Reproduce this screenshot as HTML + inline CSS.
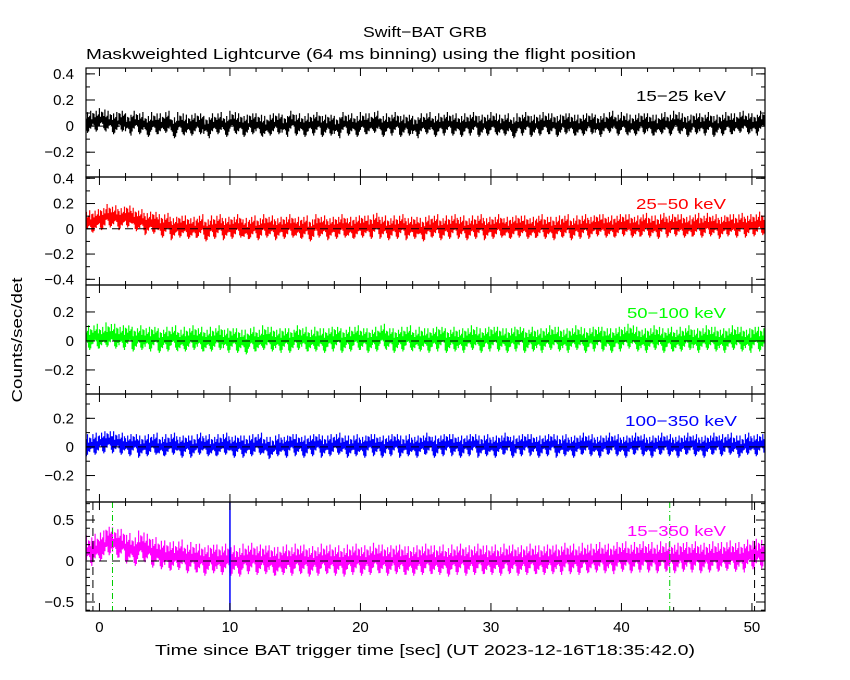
<!DOCTYPE html>
<html><head><meta charset="utf-8"><style>
html,body{margin:0;padding:0;background:#fff;}
svg{display:block;font-family:"Liberation Sans",sans-serif;}
</style></head><body>
<svg id="chart" width="850" height="680" viewBox="0 0 850 680">
<text x="363" y="37" font-size="15" textLength="124" lengthAdjust="spacingAndGlyphs">Swift−BAT GRB</text>
<text x="86" y="59" font-size="15" textLength="550" lengthAdjust="spacingAndGlyphs">Maskweighted Lightcurve (64 ms binning) using the flight position</text>
<text transform="translate(22,340) rotate(-90)" font-size="15" text-anchor="middle" textLength="125" lengthAdjust="spacingAndGlyphs">Counts/sec/det</text>
<text x="155" y="655" font-size="15" textLength="540" lengthAdjust="spacingAndGlyphs">Time since BAT trigger time [sec] (UT 2023-12-16T18:35:42.0)</text>
</svg>
<script>
const t0 = -1, dt = 0.5;
const s1525 = [0.03,0.04,0.05,0.03,0.02,0.04,0.01,0.03,0.02,0.00,0.02,0.01,0.03,-0.01,0.02,0.00,0.01,0.02,-0.01,0.01,0.02,0.00,0.03,0.01,0.00,0.02,0.01,-0.01,0.01,0.02,0.00,0.03,0.01,0.00,0.01,0.02,0.00,0.01,-0.01,0.02,0.01,0.00,0.02,0.01,0.03,0.00,0.01,0.02,0.00,0.01,-0.01,0.01,0.02,0.00,0.01,0.02,0.01,0.00,0.01,0.02,0.00,0.01,0.02,0.00,0.01,-0.01,0.01,0.02,0.00,0.01,0.02,0.01,0.00,0.02,0.01,0.00,0.01,0.02,0.00,0.01,0.03,0.01,0.02,0.00,0.01,0.02,0.01,0.00,0.02,0.01,0.03,0.01,0.00,0.02,0.01,0.02,0.00,0.01,0.02,0.01,0.03,0.02,0.01,0.03];
const s2550 = [0.05,0.06,0.08,0.10,0.09,0.08,0.10,0.07,0.06,0.04,0.05,0.02,0.03,0.00,0.02,0.01,0.00,0.02,-0.01,0.01,0.02,0.00,0.01,0.02,-0.01,0.01,0.00,0.02,0.01,0.00,0.01,0.02,0.00,0.01,-0.01,0.02,0.01,0.00,0.01,0.02,0.00,0.01,0.02,0.01,0.03,0.01,0.00,0.01,0.02,0.00,0.01,-0.01,0.01,0.02,0.00,0.01,0.02,0.01,0.00,0.01,0.02,0.00,0.01,0.02,0.00,0.01,0.02,0.01,0.00,0.02,0.01,0.00,0.01,0.02,0.00,0.01,0.02,0.01,0.03,0.02,0.01,0.02,0.03,0.02,0.01,0.03,0.02,0.01,0.03,0.02,0.03,0.02,0.01,0.03,0.02,0.03,0.02,0.01,0.03,0.02,0.03,0.02,0.03,0.04];
const s50100 = [0.02,0.03,0.02,0.04,0.03,0.02,0.03,0.01,0.02,0.01,0.02,0.00,0.01,0.02,0.00,0.01,0.02,0.01,0.00,0.01,0.02,0.00,0.01,0.00,-0.01,0.01,0.00,0.02,0.01,0.00,0.01,0.00,0.02,0.01,0.00,0.01,0.00,0.01,0.02,0.00,0.01,0.02,0.01,0.00,0.01,0.03,0.01,0.00,0.01,0.02,0.00,0.01,0.00,0.01,0.02,0.00,0.01,0.00,0.01,0.02,0.00,0.01,0.02,0.01,0.00,0.01,0.02,0.00,0.01,0.00,0.01,0.02,0.01,0.00,0.01,0.02,0.00,0.01,0.02,0.01,0.00,0.01,0.02,0.03,0.01,0.00,0.01,0.02,0.00,0.01,0.00,0.01,0.02,0.00,0.01,0.02,0.01,0.00,0.01,0.02,0.01,0.00,0.02,0.01];
const s100350 = [0.01,0.02,0.03,0.04,0.03,0.02,0.01,0.02,0.00,0.01,0.02,0.00,0.01,0.02,0.00,0.01,0.00,0.02,0.01,0.00,0.01,0.02,0.00,0.01,0.00,0.01,0.02,0.00,-0.01,0.01,0.00,0.02,0.01,0.00,0.01,0.02,0.00,0.01,0.02,0.01,0.00,0.01,0.00,0.02,0.01,0.00,0.01,0.02,0.00,0.01,0.00,0.01,0.02,0.00,0.01,0.02,0.01,0.00,0.01,0.02,0.00,0.01,0.00,0.01,0.02,0.00,0.01,0.02,0.01,0.00,0.01,0.02,0.00,0.01,0.00,0.01,0.02,0.01,0.00,0.01,0.02,0.01,0.00,0.01,0.02,0.01,0.00,0.01,0.02,0.01,0.00,0.01,0.02,0.01,0.00,0.01,0.02,0.01,0.02,0.01,0.00,0.02,0.01,0.02];
const s15350 = [0.12,0.14,0.18,0.25,0.22,0.20,0.15,0.12,0.18,0.14,0.10,0.08,0.06,0.05,0.07,0.03,0.04,0.02,0.00,0.03,0.01,0.02,0.00,-0.01,0.02,0.03,0.01,0.02,0.00,-0.02,0.01,0.00,0.02,0.01,-0.01,0.00,0.02,0.01,0.00,-0.01,0.01,0.02,0.00,0.01,0.03,0.01,0.00,0.02,0.01,-0.01,0.00,0.01,0.02,0.00,0.01,-0.01,0.01,0.02,0.00,0.01,0.02,0.00,0.01,0.00,0.02,0.01,0.00,0.01,0.02,0.00,0.01,0.02,0.01,0.03,0.02,0.01,0.03,0.02,0.04,0.03,0.02,0.04,0.05,0.03,0.04,0.05,0.04,0.03,0.05,0.04,0.03,0.05,0.04,0.05,0.03,0.04,0.05,0.04,0.06,0.05,0.04,0.07,0.08,0.09];
const errs = [0.055, 0.06, 0.055, 0.05, 0.12];
const bandLabels = ["15−25 keV","25−50 keV","50−100 keV","100−350 keV","15−350 keV"];
const xTicks = [0,10,20,30,40,50];
const yTicks1 = [0.4,0.2,0,-0.2], yTicks2=[0.4,0.2,0,-0.2,-0.4], yTicks3=[0.2,0,-0.2], yTicks4=[0.2,0,-0.2], yTicks5=[0.5,0,-0.5];
const markerTimes = [-0.5, 1.0, 10.0, 43.7, 50.2];

const NS="http://www.w3.org/2000/svg";
const svg=document.getElementById('chart');
const X0=86, X1=765, tMin=-1.03, tMax=51.0;
const xs=t=>X0+(t-tMin)/(tMax-tMin)*(X1-X0);
const up=[1,0.5,1.4,0.7,0.9,1.6,0.4,1.1], dn=[0.6,1.3,0.5,1.2,0.8,0.4,1.5,0.9];
const panels=[
 {top:68,bot:177,vmax:0.445,vmin:-0.39,data:s1525,col:'#000',ticks:yTicks1,minor:0.1,ly:101},
 {top:177,bot:285,vmax:0.41,vmin:-0.445,data:s2550,col:'#f00',ticks:yTicks2,minor:0.1,ly:209},
 {top:285,bot:394,vmax:0.386,vmin:-0.366,data:s50100,col:'#0f0',ticks:yTicks3,minor:0.1,ly:318},
 {top:394,bot:502,vmax:0.37,vmin:-0.385,data:s100350,col:'#00f',ticks:yTicks4,minor:0.1,ly:426},
 {top:502,bot:611,vmax:0.72,vmin:-0.61,data:s15350,col:'#f0f',ticks:yTicks5,minor:0.1,ly:536}
];
const labelW=[90,90,99,112,99];
function el(tag,attrs,parent){const e=document.createElementNS(NS,tag);for(const k in attrs)e.setAttribute(k,attrs[k]);(parent||svg).appendChild(e);return e;}
panels.forEach((p,i)=>{
 const ys=v=>p.top+(p.vmax-v)/(p.vmax-p.vmin)*(p.bot-p.top);
 const g=el('g',{});
 
 
 let eb='';
 let c=0;
 p.data.forEach((v,j)=>{
  const t=t0+j*dt;
  for(let k=0;k<6;k++){const tx=t+k*dt/6;const x=xs(tx);if(x>X1)continue;c++;eb+=`M${x.toFixed(1)},${ys(v+errs[i]*up[(c+i)%8]).toFixed(1)}V${ys(v-errs[i]*dn[(c*3+i)%8]).toFixed(1)}`;}
 });
 const e1=el('path',{d:eb,stroke:p.col,'stroke-width':1.2,fill:'none'},g);
 
 
 let d='';
 p.data.forEach((v,j)=>{const a=xs(t0+j*dt),b=Math.min(X1,xs(t0+(j+1)*dt));d+=(j?'L':'M')+a.toFixed(1)+','+ys(v).toFixed(1)+'H'+b.toFixed(1);});
 const ln=el('path',{d:d,stroke:p.col,'stroke-width':1.5,fill:'none'},g);
 
 
 el('line',{x1:X0,x2:X1,y1:ys(0),y2:ys(0),stroke:'#000','stroke-dasharray':'8,5','stroke-width':1},g);
 if(i==4){
  markerTimes.forEach((mt,k)=>{
   const x=xs(mt);
   const st=k==2?{stroke:'#00f','stroke-width':1.5}:(k==1||k==3)?{stroke:'#0c0','stroke-dasharray':'6,3,1,3'}:{stroke:'#000','stroke-dasharray':'8,5'};
   const m=el('line',Object.assign({x1:x,x2:x,y1:p.top,y2:p.bot},st),g);
   
   
  });
 }
 el('rect',{x:X0,y:p.top,width:X1-X0,height:p.bot-p.top,fill:'none',stroke:'#000','stroke-width':1.2},g);
 for(let t=-0;t<=51;t+=2){const x=xs(t);const L=(t%10==0)?8:4;el('line',{x1:x,x2:x,y1:p.top,y2:p.top+L,stroke:'#000'},g);el('line',{x1:x,x2:x,y1:p.bot,y2:p.bot-L,stroke:'#000'},g);}
 for(let v=Math.ceil(p.vmin/p.minor)*p.minor;v<=p.vmax;v+=p.minor){const y=ys(v);el('line',{x1:X0,x2:X0+4,y1:y,y2:y,stroke:'#000'},g);el('line',{x1:X1,x2:X1-4,y1:y,y2:y,stroke:'#000'},g);}
 p.ticks.forEach(v=>{const y=ys(v);el('line',{x1:X0,x2:X0+9,y1:y,y2:y,stroke:'#000'},g);el('line',{x1:X1,x2:X1-9,y1:y,y2:y,stroke:'#000'},g);
  const tl=el('text',{x:74,y:y+5,'font-size':15,'text-anchor':'end'},g);tl.textContent=(v<0?'−'+(-v):String(v));
  
  });
 const right=i==3?737:726;
 const lb=el('text',{x:right-labelW[i],y:p.ly,'font-size':15,fill:p.col,textLength:labelW[i],lengthAdjust:'spacingAndGlyphs'},g);
 lb.textContent=bandLabels[i];
 
 
});
xTicks.forEach(t=>{const tx=el('text',{x:xs(t),y:632,'font-size':15,'text-anchor':'middle'});tx.textContent=t;
 
 });
</script>
</body></html>
